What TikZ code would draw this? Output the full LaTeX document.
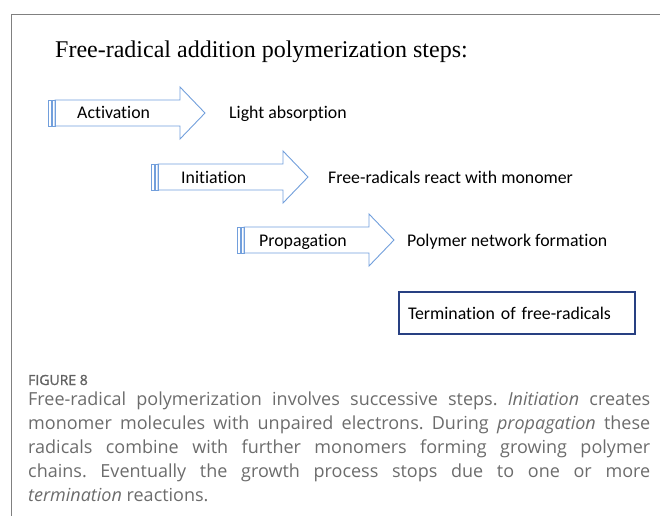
\documentclass[tikz,border=0pt]{standalone}
\usepackage{fontspec}
\setmainfont{Liberation Serif}
\newfontfamily\calibri{Carlito}[RawFeature=-liga]
\newfontfamily\capfont{Open Sans}
\newfontfamily\capbold{Open Sans}[FakeBold=1.2]
\definecolor{arrowblue}{RGB}{114,159,220}
\definecolor{boxblue}{RGB}{40,64,130}
\definecolor{framegray}{RGB}{128,128,128}
\definecolor{capgray}{RGB}{108,108,108}
\tikzset{
  arrowline/.style={draw=arrowblue, line width=0.9pt, line join=miter},
  steptext/.style={font=\calibri\fontsize{17.8}{21}\selectfont, anchor=base west, inner sep=0pt},
}
\begin{document}
\begin{tikzpicture}[x=1pt,y=-1pt]
  \useasboundingbox (0,0) rectangle (660,515);
  % frame
  \draw[framegray, line width=1.3pt] (11.5,530) -- (11.5,14.5) -- (670,14.5);
  \node[font=\fontsize{24}{28}\selectfont, anchor=base west, inner sep=0pt] (title) at (55,57)
    {Free-radical addition polymerization steps:};
  % activation
  \begin{scope}[shift={(55,113)}]
    \draw[arrowline] (0,-13) -- (125,-13) -- (125,-26) -- (150,0) -- (125,26) -- (125,13) -- (0,13) -- cycle;
    \draw[arrowline] (-7,-13) rectangle (-4,13);
    \draw[arrowline] (-3,-13) rectangle (0,13);
  \end{scope}
  \node[steptext] (act) at (77,118) {Activation};
  \node[steptext] (light) at (229,118) {Light absorption};
  % initiation
  \begin{scope}[shift={(158,177)}]
    \draw[arrowline] (0,-13) -- (125,-13) -- (125,-26) -- (150,0) -- (125,26) -- (125,13) -- (0,13) -- cycle;
    \draw[arrowline] (-7,-13) rectangle (-4,13);
    \draw[arrowline] (-3,-13) rectangle (0,13);
  \end{scope}
  \node[steptext] (init) at (181,183) {Initiation};
  \node[steptext] (react) at (328,183) {Free-radicals react with monomer};
  % propagation
  \begin{scope}[shift={(244,240)}]
    \draw[arrowline] (0,-13) -- (125,-13) -- (125,-26) -- (150,0) -- (125,26) -- (125,13) -- (0,13) -- cycle;
    \draw[arrowline] (-7,-13) rectangle (-4,13);
    \draw[arrowline] (-3,-13) rectangle (0,13);
  \end{scope}
  \node[steptext] (prop) at (259,246) {Propagation};
  \node[steptext] (network) at (407,246) {Polymer network formation};
  % termination
  \node[draw=boxblue, line width=1.8pt, minimum width=236pt, minimum height=42pt,
    text width=218pt, align=left, font=\calibri\fontsize{17.8}{21}\selectfont] (term) at (517,313)
    {Termination of free-radicals};
  % caption
  \node[font=\capbold\fontsize{14}{16}\selectfont, text=capgray!90!black, anchor=base west, inner sep=0pt] (fig) at (28,385) {FIGURE 8};
  \node[font=\capfont\fontsize{18}{24.2}\selectfont, text=capgray, text width=622pt, align=justify,
    anchor=base west, inner sep=0pt] (cap) at (28,405)
    {\frenchspacing\hyphenpenalty=10000 Free-radical polymerization involves successive steps. \textit{Initiation} creates\linebreak
     monomer molecules with unpaired electrons. During \textit{propagation} these\linebreak
     radicals combine with further monomers forming growing polymer\linebreak
     chains. Eventually the growth process stops due to one or more\linebreak
     \textit{termination} reactions.};
\end{tikzpicture}
\end{document}
